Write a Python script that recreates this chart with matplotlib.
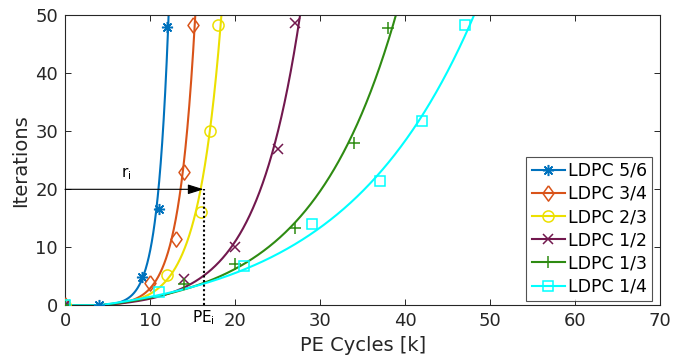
import numpy as np
import matplotlib
matplotlib.use("Agg")
import matplotlib.pyplot as plt

# ---- data ----
labels = ["LDPC 5/6", "LDPC 3/4", "LDPC 2/3", "LDPC 1/2", "LDPC 1/3", "LDPC 1/4"]
x_56 = [0, 4, 9, 11, 12]
y_56 = [0, 0, 4.8, 16.6, 47.9]
x_34 = [0, 10, 13, 14, 15]
y_34 = [0, 3.8, 11.4, 23.0, 48.3]
x_23 = [0, 12, 16, 17, 18]
y_23 = [0, 5.3, 16.1, 30.1, 48.4]
x_12 = [0, 14, 20, 25, 27]
y_12 = [0, 4.5, 10.1, 26.9, 48.6]
x_13 = [0, 14, 20, 27, 34, 38]
y_13 = [0, 3.7, 7.2, 13.3, 28.0, 47.8]
x_14 = [0, 11, 21, 29, 37, 42, 47]
y_14 = [0, 2.3, 6.8, 14.1, 21.4, 31.8, 48.3]
onset = 4.0          # PE cycles where iterations start growing
pe_i = 16.3          # marked operating point
r_i = 20             # iterations level of the arrow
xticks = [0, 10, 20, 30, 40, 50, 60, 70]
yticks = [0, 10, 20, 30, 40, 50]

series = [(x_56, y_56), (x_34, y_34), (x_23, y_23),
          (x_12, y_12), (x_13, y_13), (x_14, y_14)]
colors = ["#0072BD", "#D95319", "#ECE000", "#72184E", "#2E8B12", "#00FFFF"]
diamond = [(0, 1), (0.72, 0), (0, -1), (-0.72, 0), (0, 1)]
markers = [(8, 2, 0), diamond, "o", "x", "+", "s"]
msizes = [8, 11, 8, 7, 9, 6.5]


def fit_exp(x, y, x0):
    """Fit y = a*(exp(b*(x-x0))-1) to the points (approx. perpendicular error in pixels)."""
    x = np.asarray(x, float)
    y = np.asarray(y, float)
    m = x > x0
    x, y = x[m], y[m]
    A = np.exp(np.linspace(np.log(0.01), np.log(100), 400))[:, None, None]
    B = np.linspace(0.02, 2.0, 400)[None, :, None]
    f = A * (np.exp(B * (x - x0)) - 1)
    xinv = x0 + np.log1p(y / A) / B
    dy = (y - f) * 5.8
    dx = (x - xinv) * 8.5
    d = np.abs(dx * dy) / np.sqrt(dx ** 2 + dy ** 2 + 1e-12)
    err = (d ** 2).sum(axis=2)
    i, j = np.unravel_index(np.argmin(err), err.shape)
    return A[i, 0, 0], B[0, j, 0]


fig = plt.figure(figsize=(6.75, 3.62), dpi=100)
ax = fig.add_axes([0.0963, 0.1566, 0.8817, 0.8011])

xx = np.linspace(0, 70, 4000)
for (xs, ys), c, mk, ms, lab in zip(series, colors, markers, msizes, labels):
    a, b = fit_exp(xs, ys, onset)
    yy = np.where(xx < onset, 0.0, a * (np.exp(b * (xx - onset)) - 1))
    yy = np.where(yy > 60, np.nan, yy)
    ax.plot(xx, yy, color=c, lw=1.5, zorder=2)
    ax.plot(xs, ys, ls="none", marker=mk, ms=ms, mfc="none", mec=c, mew=1.1, zorder=3)
    ax.plot([], [], color=c, lw=1.5, marker=mk, ms=ms, mfc="none", mec=c, mew=1.1, label=lab)

# annotation: arrow r_i and dotted PE_i line
ax.annotate("", xy=(pe_i, r_i), xytext=(0, r_i),
            arrowprops=dict(arrowstyle="-|>,head_length=0.8,head_width=0.25", color="black",
                            lw=0.8, mutation_scale=12, shrinkA=0, shrinkB=0), zorder=5)
ax.plot([pe_i, pe_i], [0, r_i], color="black", ls=(0, (1, 1.2)), lw=1.5, zorder=5)
ax.text(7.2, 21.2, r"r$_\mathregular{i}$", fontsize=11, ha="center", va="bottom")
ax.text(pe_i, -0.6, r"PE$_\mathregular{i}$", fontsize=11, ha="center", va="top")

ax.set_xlim(0, 70)
ax.set_ylim(0, 50)
ax.set_xticks(xticks)
ax.set_yticks(yticks)
ax.tick_params(direction="in", length=4, width=0.7, colors="#262626",
               labelsize=13, top=True, right=True, pad=5)
for s in ax.spines.values():
    s.set_color("#262626")
    s.set_linewidth(0.8)
ax.set_xlabel("PE Cycles [k]", fontsize=14, color="#262626", labelpad=4)
ax.set_ylabel("Iterations", fontsize=14, color="#262626", labelpad=4)

leg = ax.legend(loc="lower right", bbox_to_anchor=(0.987, 0.015), fontsize=12.5,
                frameon=True, fancybox=False, handlelength=1.9, handletextpad=0.2,
                labelspacing=0.3, borderpad=0.3, borderaxespad=0)
leg.get_frame().set_edgecolor("#262626")
leg.get_frame().set_linewidth(0.8)

fig.savefig("out.png", dpi=100)
